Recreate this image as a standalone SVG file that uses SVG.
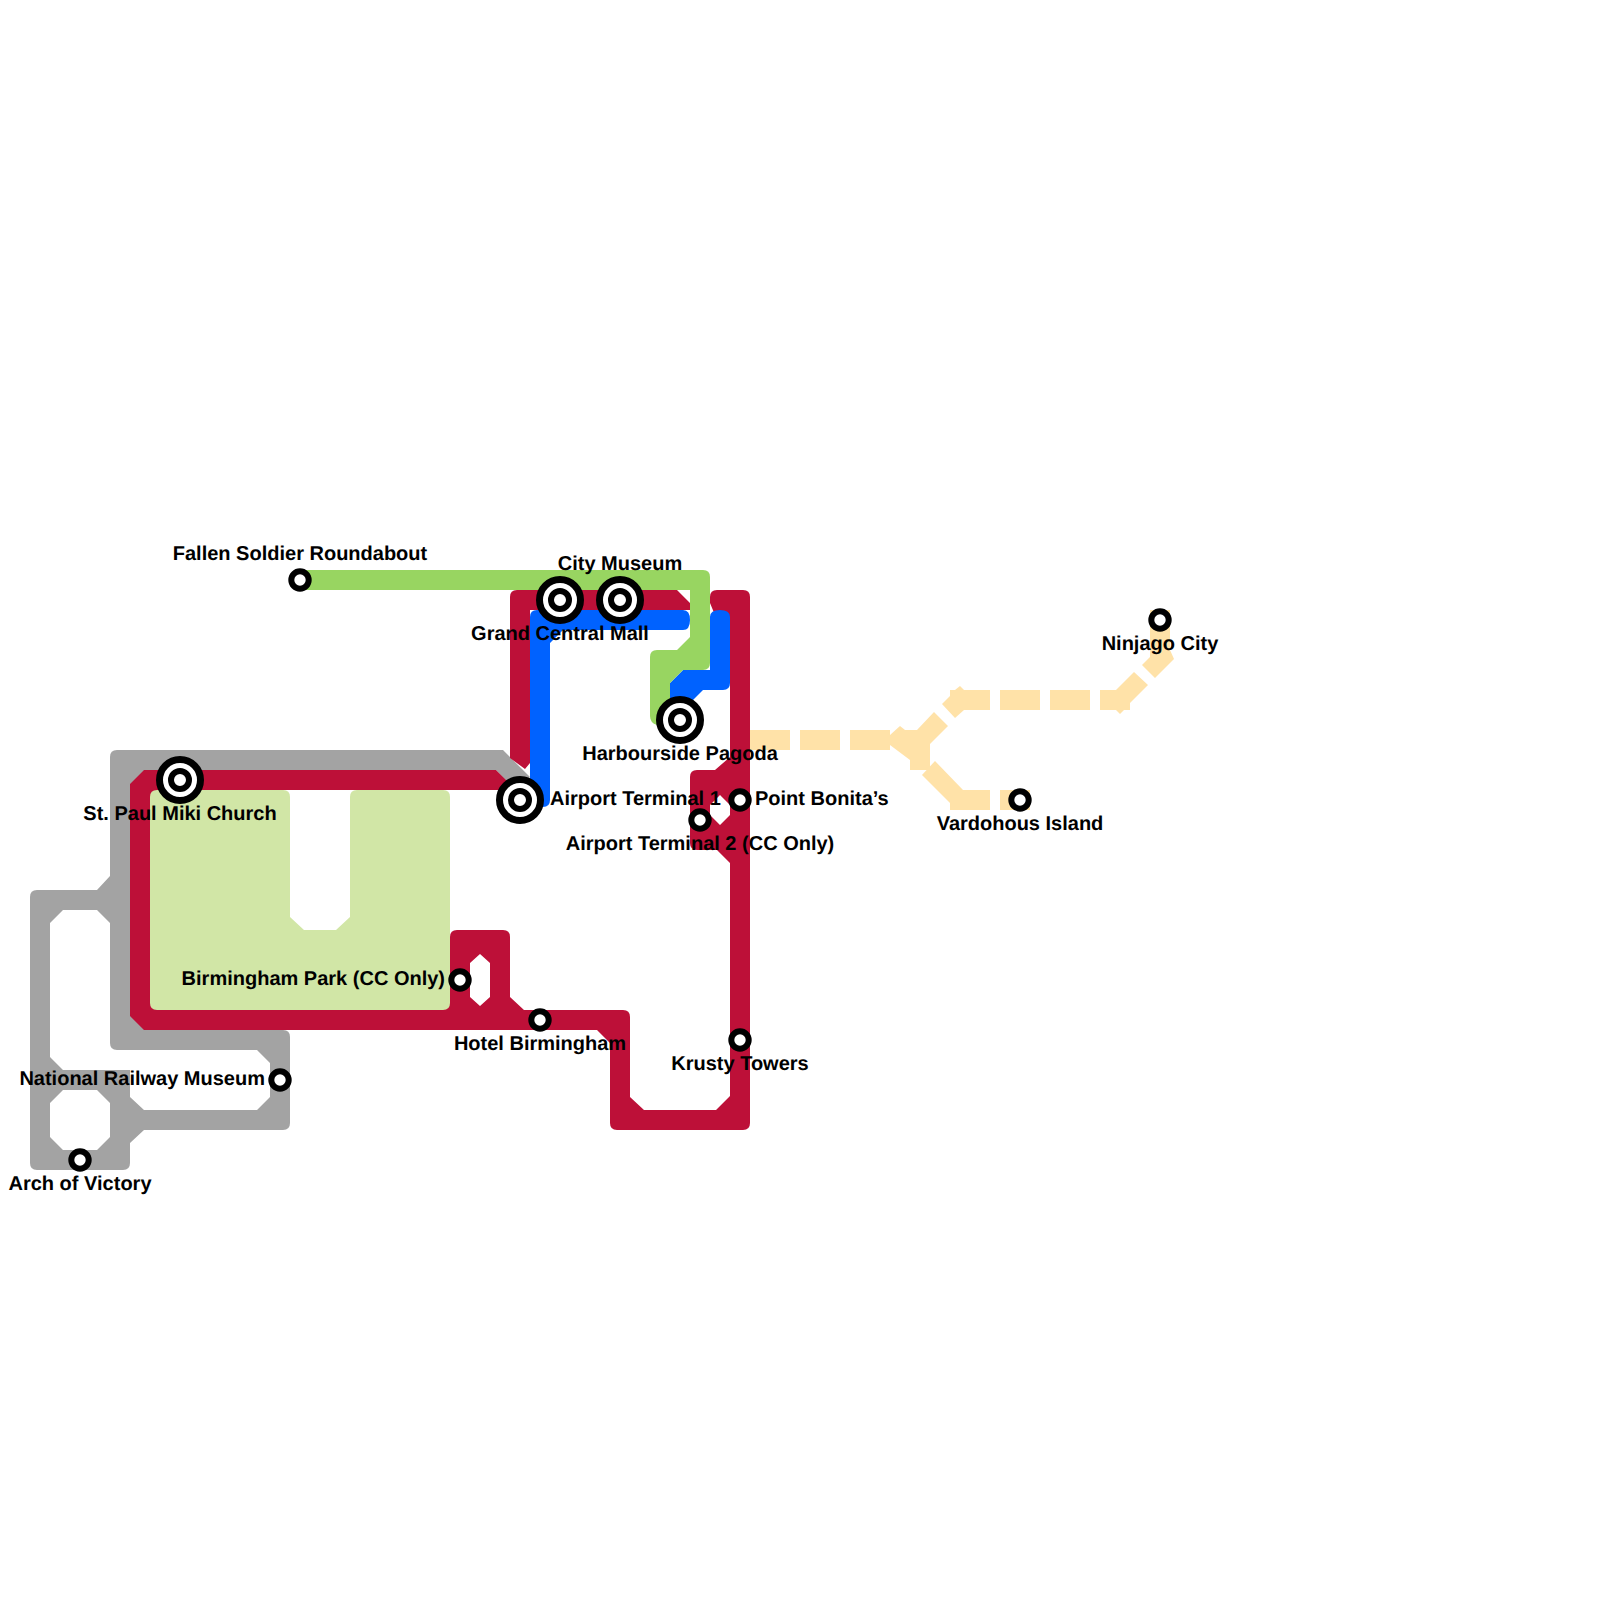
<svg xmlns="http://www.w3.org/2000/svg" width="1600" height="1600" viewBox="0 0 1600 1600">
<style>
text{font-family:"Liberation Sans",Arial,sans-serif;font-weight:700;font-size:20px;fill:#000;text-rendering:geometricPrecision}
.m{text-anchor:middle}.e{text-anchor:end}
.s circle{fill:#fff;stroke:#000;stroke-width:6}
.s circle.o{stroke-width:7}
</style>
<rect width="1600" height="1600" fill="#fff"/>
<g id="connectors">
<g id="line-yellow" fill="#ffe2a8">
<path d="M750 730H790V750H750ZM800 730H840V750H800ZM850 730H890V750H850Z"/>
<path d="M890 735L900 726L905 730H917L934 712L948 726L930 744V770H910V760L890 745Z"/>
<path d="M942 704L950 696V690H955L960 686L964 690H990V710H964L955 718Z"/>
<path d="M1000 690H1040V710H1000ZM1050 690H1090V710H1050Z"/>
<path d="M1100 690H1116L1134 672L1148 685L1130 703V710H1124L1120 714L1116 710H1100Z"/>
<path d="M1142 665L1150 657V610H1170V650L1174 659L1155 678Z"/>
<path d="M922 775L935 761L963 790H990V810H950V803Z"/>
<path d="M1000 790H1030V810H1000Z"/>
</g>
<path id="line-grey" fill="#a3a3a3" fill-rule="evenodd" d="M117 750H503L530 777L512 787L496 770H150V1030H283Q290 1030 290 1037V1123Q290 1130 283 1130H144L130 1143V1163Q130 1170 123 1170H37Q30 1170 30 1163V897Q30 890 37 890H97L110 876V757Q110 750 117 750ZM63 910L50 923V1057L63 1070H130V1097L144 1110H257L270 1097V1063L257 1050H117Q110 1050 110 1043V923L97 910ZM63 1090L50 1103V1137L63 1150H97L110 1137V1103L97 1090Z"/>
<path id="line-red" fill="#bd1038" fill-rule="evenodd" d="M144 770H496L512 786V790H160V800H150V1000H160V1010H440V1000H450V937Q450 930 457 930H503Q510 930 510 937V997L524 1010H623Q630 1010 630 1017V1097L644 1110H716L730 1096V863L717 850H697Q690 850 690 843V777Q690 770 697 770H715L730 757V620H717L710 603V597Q710 590 717 590H743Q750 590 750 597V1123Q750 1130 743 1130H617Q610 1130 610 1123V1043L597 1030H144L130 1016V784ZM480 954L470 963V997L480 1006L490 997V963ZM720 795L710 805V815L720 825L730 815V805Z"/>
<path id="line-red-top" fill="#bd1038" d="M517 590H677L690 603V610H530V763L525 769L510 758V597Q510 590 517 590Z"/>
<path id="line-blue" fill="#0062ff" d="M537 610H683Q690 610 690 620Q690 630 683 630H563L550 643V800Q550 807 543 807H530V617Q530 610 537 610ZM670 683L683 670H710V617Q710 610 720 610Q730 610 730 617V683Q730 690 723 690H703L680 713L670 720Z"/>
<path id="line-green" fill="#98d561" d="M295 570H703Q710 570 710 577V663Q710 670 703 670H683L670 683V725H657Q650 723 650 716V657Q650 650 657 650H677L690 637V590H295Z"/>
</g>
<g id="park"><path fill="#d1e6a6" d="M157 790H283Q290 790 290 797V917L304 930H336L350 917V797Q350 790 357 790H443Q450 790 450 797V1003Q450 1010 443 1010H157Q150 1010 150 1003V797Q150 790 157 790Z"/></g>
<g id="st-fallen" class="s"><circle cx="300" cy="580" r="8.7"/><text class="m" x="300" y="559.5">Fallen Soldier Roundabout</text></g>
<g id="st-city" class="s"><circle class="o" cx="620" cy="600" r="20.5"/><circle cx="620" cy="600" r="9"/><text class="m" x="620" y="569.5">City Museum</text></g>
<g id="st-grand" class="s"><circle class="o" cx="560" cy="600" r="20.5"/><circle cx="560" cy="600" r="9"/><text class="m" x="560" y="639.5">Grand Central Mall</text></g>
<g id="st-harbour" class="s"><circle class="o" cx="680" cy="720" r="20.5"/><circle cx="680" cy="720" r="9"/><text class="m" x="680" y="759.5">Harbourside Pagoda</text></g>
<g id="st-t1" class="s"><circle class="o" cx="520" cy="800" r="20.5"/><circle cx="520" cy="800" r="9"/><text x="550" y="804.5">Airport Terminal 1</text></g>
<g id="st-bonita" class="s"><circle cx="740" cy="800" r="8.7"/><text x="755" y="804.5">Point Bonita’s</text></g>
<g id="st-t2" class="s"><circle cx="700" cy="820" r="8.7"/><text class="m" x="700" y="849.5">Airport Terminal 2 (CC Only)</text></g>
<g id="st-krusty" class="s"><circle cx="740" cy="1040" r="8.7"/><text class="m" x="740" y="1069.5">Krusty Towers</text></g>
<g id="st-hotel" class="s"><circle cx="540" cy="1020" r="8.7"/><text class="m" x="540" y="1049.5">Hotel Birmingham</text></g>
<g id="st-park" class="s"><circle cx="460" cy="980" r="8.7"/><text class="e" x="445" y="984.5">Birmingham Park (CC Only)</text></g>
<g id="st-paul" class="s"><circle class="o" cx="180" cy="780" r="20.5"/><circle cx="180" cy="780" r="9"/><text class="m" x="180" y="819.5">St. Paul Miki Church</text></g>
<g id="st-railway" class="s"><circle cx="280" cy="1080" r="8.7"/><text class="e" x="265" y="1084.5">National Railway Museum</text></g>
<g id="st-arch" class="s"><circle cx="80" cy="1160" r="8.7"/><text class="m" x="80" y="1189.5">Arch of Victory</text></g>
<g id="st-ninjago" class="s"><circle cx="1160" cy="620" r="8.7"/><text class="m" x="1160" y="649.5">Ninjago City</text></g>
<g id="st-vardohous" class="s"><circle cx="1020" cy="800" r="8.7"/><text class="m" x="1020" y="829.5">Vardohous Island</text></g>
</svg>
